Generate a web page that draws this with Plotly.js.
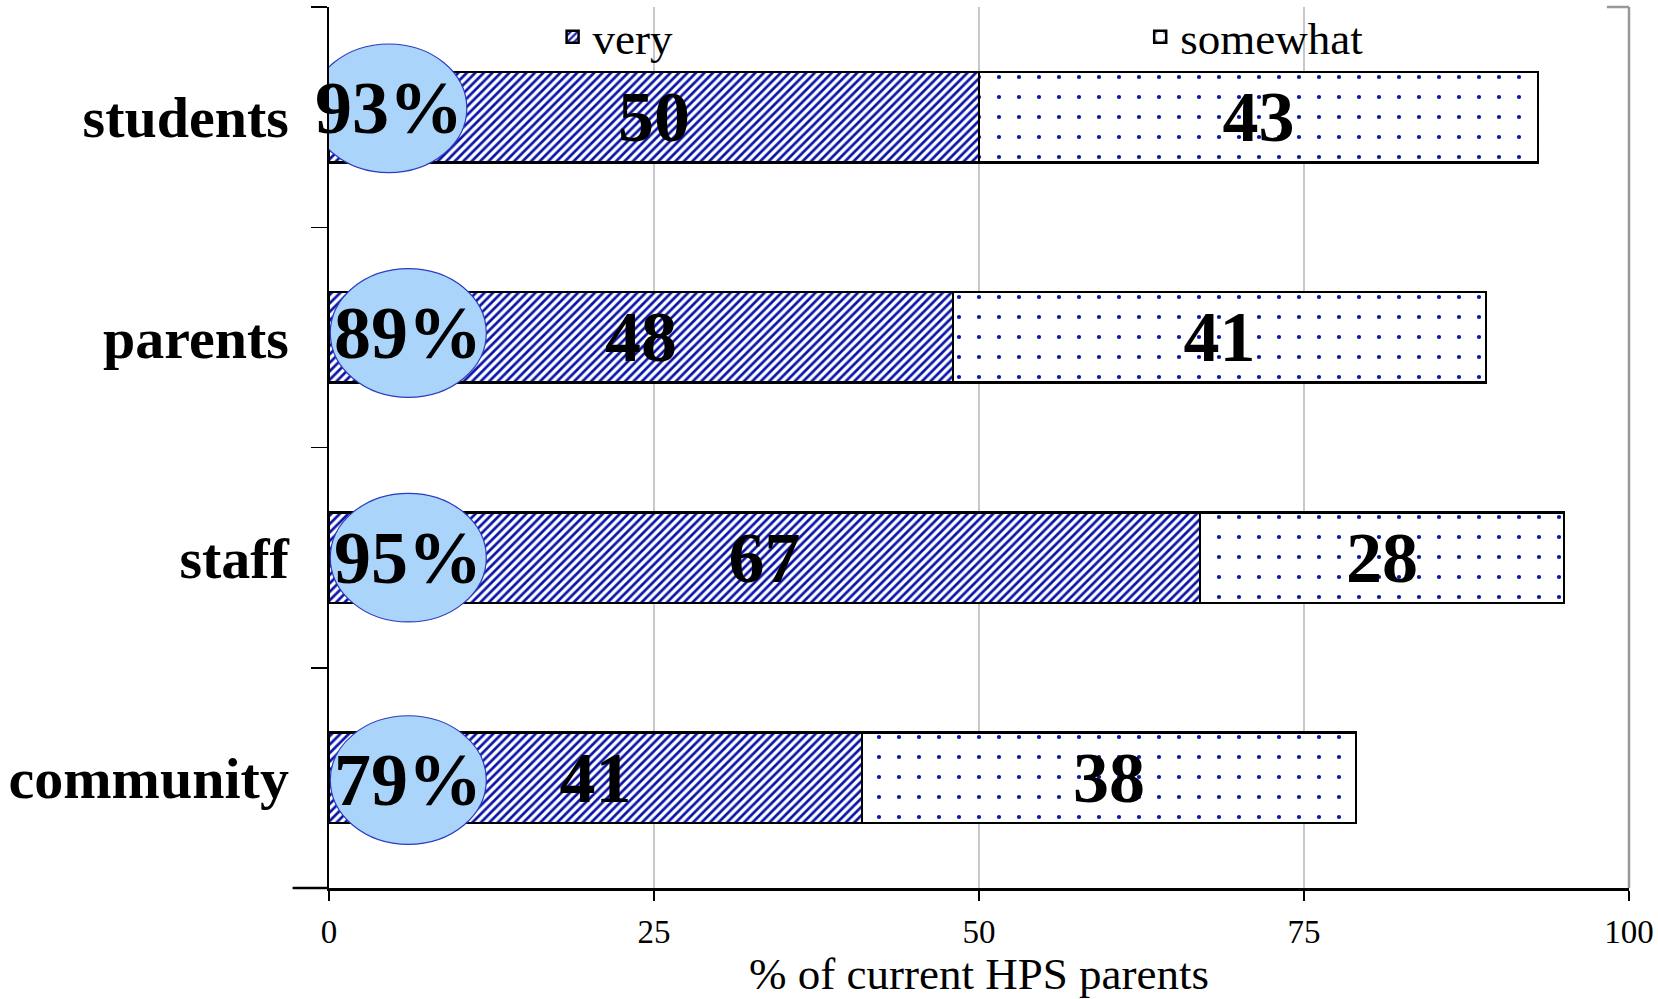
<!DOCTYPE html>
<html><head><meta charset="utf-8">
<script src="https://cdn.plot.ly/plotly-3.0.1.min.js"></script>
<style>html,body{margin:0;padding:0;background:#fff}#chart{width:1658px;height:999px}</style>
</head><body><div id="chart"></div>
<script>
// ---- data ----
const groups = ['students', 'parents', 'staff', 'community'];
const veryValues = [50, 48, 67, 41];
const somewhatValues = [43, 41, 28, 38];
const seriesNames = ['very', 'somewhat'];
const xTickValues = [0, 25, 50, 75, 100];
const xTitle = '% of current HPS parents';

// ---- style ----
const FONT = '"Liberation Serif", "DejaVu Serif", serif';
const BLUE = '#0a14a6';
const OVAL_FILL = '#aad4fa';
const OVAL_LINE = '#2a3cbf';
const ovalHalfW = 6.0, ovalHalfH = 0.292, ovalCx = 6.1;
const ovalNudgeX = [-1.5, 0, 0, 0];
const ovalNudgeY = [-0.04, -0.02, 0, 0.01];

const totals = groups.map((g, i) => veryValues[i] + somewhatValues[i]);

const common = {
  type: 'bar', orientation: 'h', y: groups,
  texttemplate: '%{x}', textposition: 'inside', insidetextanchor: 'middle',
  constraintext: 'none', textangle: 0,
  textfont: {family: FONT, size: 72, color: '#000', weight: 'bold'},
  insidetextfont: {family: FONT, size: 72, color: '#000', weight: 'bold'},
  hoverinfo: 'skip'
};

const traces = [
  Object.assign({}, common, {
    name: seriesNames[0], x: veryValues, legend: 'legend',
    marker: {color: BLUE, line: {color: '#000', width: 2.5},
      pattern: {shape: '/', fgcolor: BLUE, bgcolor: '#fff', size: 6, solidity: 0.45}}
  }),
  Object.assign({}, common, {
    name: seriesNames[1], x: somewhatValues, legend: 'legend2',
    marker: {color: BLUE, line: {color: '#000', width: 2.5},
      pattern: {shape: '.', fgcolor: BLUE, bgcolor: '#fff', size: 20, solidity: 0.035}}
  })
];

const shapes = [];
const annotations = [];
groups.forEach((g, i) => {
  const cx = ovalCx + ovalNudgeX[i];
  const cy = i + ovalNudgeY[i];
  shapes.push({type: 'circle', xref: 'x', yref: 'y', layer: 'above',
    x0: cx - ovalHalfW, x1: cx + ovalHalfW, y0: cy - ovalHalfH, y1: cy + ovalHalfH,
    fillcolor: OVAL_FILL, line: {color: OVAL_LINE, width: 1.2}});
  annotations.push({xref: 'x', yref: 'y', x: cx, y: cy, text: totals[i] + '%',
    showarrow: false, xanchor: 'center', yanchor: 'middle',
    font: {family: FONT, size: 74, color: '#000', weight: 'bold'}});
});
shapes.push({type: 'line', xref: 'paper', yref: 'paper', x0: 1, x1: 1, y0: 0, y1: 1,
  line: {color: '#999', width: 2.5}, layer: 'above'});
shapes.push({type: 'line', xref: 'paper', yref: 'paper', x0: 0.983, x1: 1, y0: 1, y1: 1,
  line: {color: '#999', width: 2.5}, layer: 'above'});
shapes.push({type: 'line', xref: 'paper', yref: 'paper', x0: -0.028, x1: 0, y0: 0, y1: 0,
  line: {color: '#000', width: 2.5}, layer: 'above'});

const legendBase = {orientation: 'h', xanchor: 'left', y: 0.966, yanchor: 'middle',
  bgcolor: 'rgba(0,0,0,0)', borderwidth: 0,
  font: {family: FONT, size: 45, color: '#000'}};

const layout = {
  width: 1658, height: 999,
  margin: {l: 329, r: 29, t: 7, b: 111, autoexpand: false},
  paper_bgcolor: '#fff', plot_bgcolor: '#fff',
  barmode: 'stack', bargap: 0.59,
  showlegend: true,
  legend: Object.assign({}, legendBase, {x: 0.172}),
  legend2: Object.assign({}, legendBase, {x: 0.624}),
  xaxis: {
    range: [0, 100], tickvals: xTickValues, ticktext: xTickValues.map(String),
    showgrid: true, gridcolor: '#c8c8c8', gridwidth: 1.5,
    showline: true, linecolor: '#000', linewidth: 2.5,
    ticks: 'outside', ticklen: 10, tickwidth: 1.5, tickcolor: '#000',
    tickfont: {family: FONT, size: 33, color: '#000'},
    ticklabelstandoff: 3, zeroline: false,
    title: {text: xTitle, font: {family: FONT, size: 45, color: '#000'}, standoff: 9}
  },
  yaxis: {
    type: 'category', autorange: 'reversed',
    showgrid: false, zeroline: false,
    showline: true, linecolor: '#000', linewidth: 2.5,
    ticks: 'outside', tickson: 'boundaries', ticklen: 16, tickwidth: 1.5, tickcolor: '#000',
    tickfont: {family: FONT, size: 58, color: '#000', weight: 'bold'},
    ticklabelstandoff: 26
  },
  shapes: shapes,
  annotations: annotations,
  hovermode: false
};

Plotly.newPlot('chart', traces, layout, {staticPlot: true, displayModeBar: false});
</script>
</body></html>
